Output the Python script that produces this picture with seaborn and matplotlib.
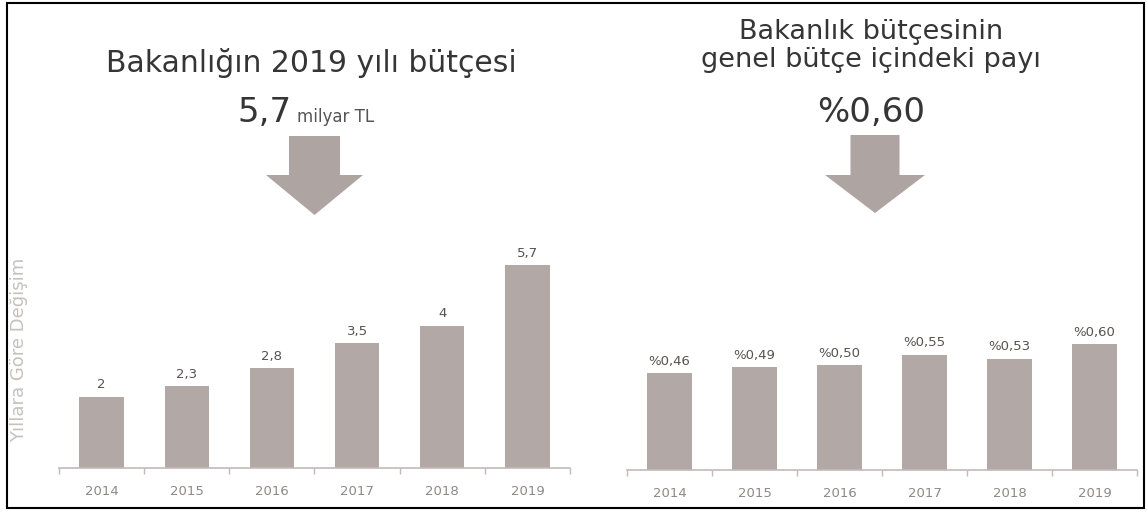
import matplotlib
matplotlib.use("Agg")
import matplotlib.pyplot as plt
import numpy as np
import seaborn as sns
from matplotlib.patches import FancyArrow, Rectangle

# Ministry budget by year (billion TL) and its share of the general budget (%)
years = ["2014", "2015", "2016", "2017", "2018", "2019"]
budget = [2.0, 2.3, 2.8, 3.5, 4.0, 5.7]
budget_labels = ["2", "2,3", "2,8", "3,5", "4", "5,7"]
share = [0.46, 0.49, 0.50, 0.55, 0.53, 0.60]
share_labels = ["%0,46", "%0,49", "%0,50", "%0,55", "%0,53", "%0,60"]

BAR = "#b2a8a5"
ARROW = "#aea5a2"
AXIS = "#c2bab7"
TITLE = "#353535"
VALUE = "#58524f"
YEAR = "#8e8886"

sns.set_theme(style="white")
plt.rcParams["font.family"] = ["DejaVu Sans"]

W, H = 1147, 513
fig = plt.figure(figsize=(W / 100, H / 100), dpi=100, facecolor="white")


def px_axes(x0, x1, y_top, y_bottom, **kw):
    return fig.add_axes([x0 / W, (H - y_bottom) / H, (x1 - x0) / W, (y_bottom - y_top) / H], **kw)


# overlay in pixel coordinates for headings, arrows and frame
ov = px_axes(0, W, 0, H, zorder=-1)
ov.set_xlim(0, W)
ov.set_ylim(H, 0)
ov.axis("off")

ax1 = px_axes(59, 570, 230, 468)
ax2 = px_axes(627, 1137, 230, 470)


def style_bars(ax, values, labels, ymax):
    sns.barplot(x=years, y=values, ax=ax, color=BAR, width=0.52, saturation=1, linewidth=0)
    ax.set_xlim(-0.5, 5.5)
    ax.set_ylim(0, ymax)
    ax.set_facecolor("none")
    for side in ("left", "right", "top"):
        ax.spines[side].set_visible(False)
    ax.spines["bottom"].set_color(AXIS)
    ax.spines["bottom"].set_linewidth(1.2)
    ax.set_yticks([])
    ax.set_xlabel("")
    ax.set_ylabel("")
    ax.set_xticks(np.arange(-0.5, 6.0, 1.0), minor=True)
    ax.tick_params(axis="x", which="major", length=0, pad=12, labelsize=9.5, labelcolor=YEAR)
    ax.tick_params(axis="x", which="minor", length=4, width=1, color=AXIS, direction="out", bottom=True)
    for i, (v, lab) in enumerate(zip(values, labels)):
        ax.annotate(lab, (i, v), xytext=(0, 8.6), textcoords="offset points",
                    ha="center", va="center", fontsize=9.5, color=VALUE)


style_bars(ax1, budget, budget_labels, 6.685)
style_bars(ax2, share, share_labels, 1.143)

# left heading
ov.text(311, 72, "Bakanlığın 2019 yılı bütçesi", ha="center", va="baseline",
        fontsize=21.5, color=TITLE)
ov.text(292, 122, "5,7", ha="right", va="baseline", fontsize=24.5, color=TITLE)
ov.text(297, 122, "milyar TL", ha="left", va="baseline", fontsize=12, color="#555")

# right heading
ov.text(871, 39, "Bakanlık bütçesinin", ha="center", va="baseline", fontsize=19.5, color=TITLE)
ov.text(871, 67, "genel bütçe içindeki payı", ha="center", va="baseline", fontsize=19.5, color=TITLE)
ov.text(871, 122, "%0,60", ha="center", va="baseline", fontsize=24.5, color=TITLE)

# down arrows
ov.add_patch(FancyArrow(314.5, 136, 0, 79, width=51, head_width=97, head_length=40,
                        length_includes_head=True, color=ARROW, lw=0))
ov.add_patch(FancyArrow(875, 135, 0, 78, width=49, head_width=100, head_length=38,
                        length_includes_head=True, color=ARROW, lw=0))

# vertical caption
ov.text(19, 350, "Yıllara Göre Değişim", rotation=90, ha="center", va="center",
        fontsize=13, color="#c6c1bf")

# outer frame
ov.add_patch(Rectangle((6.5, 2.5), 1137, 505, fill=False, ec="black", lw=1.5, clip_on=False))

fig.savefig("out.png", dpi=100, facecolor="white")
